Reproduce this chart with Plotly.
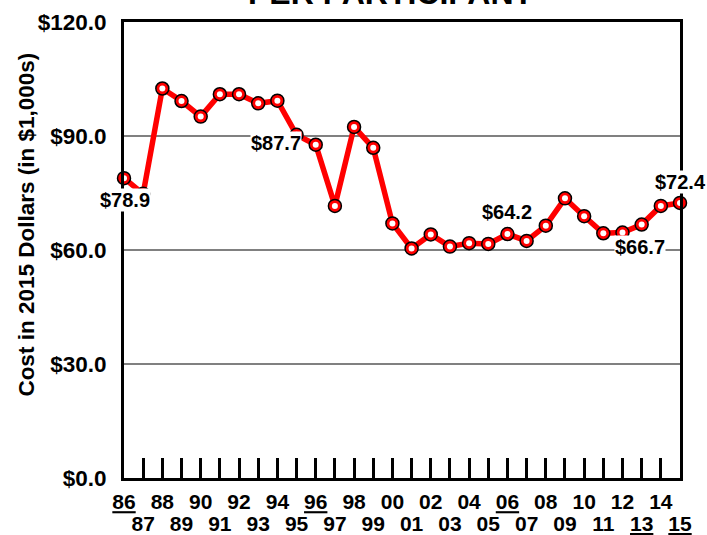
import plotly.graph_objects as go

# ---- data ----
years = list(range(1986, 2016))
cost = [78.9, 74.8, 102.5, 99.2, 95.1, 101.0, 101.0, 98.6, 99.3, 90.3,
        87.7, 71.6, 92.4, 86.9, 67.0, 60.4, 64.1, 60.9, 61.8, 61.6,
        64.2, 62.4, 66.4, 73.6, 68.9, 64.4, 64.6, 66.7, 71.6, 72.4]
label_years = [1986, 1996, 2006, 2013, 2015]
label_text = ["$78.9", "$87.7", "$64.2", "$66.7", "$72.4"]
underlined_years = [1986, 1996, 2006, 2013, 2015]
y_tickvals = [0, 30, 60, 90, 120]
y_ticktext = ["$0.0", "$30.0", "$60.0", "$90.0", "$120.0"]
title_text = "PER PARTICIPANT"
y_title = "Cost in 2015 Dollars (in $1,000s)"

# ---- styles ----
label_shifts = [(1, -22), (-40, 2), (0, 22), (-2, -22), (0, 21)]
FONT = "Liberation Sans, Arial, sans-serif"


def yr_label(y):
    s = f"{y % 100:02d}"
    return f"<u>{s}</u>" if y in underlined_years else s


even_text = [yr_label(y) if y % 2 == 0 else "" for y in years]
odd_text = [yr_label(y) if y % 2 == 1 else "" for y in years]

fig = go.Figure()
# line
fig.add_trace(go.Scatter(
    x=years, y=cost, mode="lines", cliponaxis=False,
    line=dict(color="#FF0000", width=5.5),
    hoverinfo="skip", showlegend=False,
))
# red ball markers
fig.add_trace(go.Scatter(
    x=years, y=cost, mode="markers", cliponaxis=False, xaxis="x2",
    marker=dict(size=13, color="#FF0000", line=dict(color="black", width=1.5)),
    hoverinfo="skip", showlegend=False,
))
# white highlight
fig.add_trace(go.Scatter(
    x=years, y=cost, mode="markers", cliponaxis=False, xaxis="x2",
    marker=dict(size=6, color="white", line=dict(width=0)),
    hoverinfo="skip", showlegend=False,
))

for yr, txt, (dx, dy) in zip(label_years, label_text, label_shifts):
    fig.add_annotation(
        x=yr, y=cost[years.index(yr)], xref="x", yref="y", text=txt,
        showarrow=False, xshift=dx, yshift=dy, bgcolor="white", borderpad=0,
        font=dict(family=FONT, size=20, color="black", weight="bold"),
    )

fig.add_annotation(
    x=-0.175, y=0.555, xref="paper", yref="paper", text=y_title,
    textangle=-90, showarrow=False, xanchor="center", yanchor="middle",
    font=dict(family=FONT, size=22.5, color="black", weight="bold"),
)
fig.add_annotation(
    x=0.48, y=1.019, xref="paper", yref="paper", text=title_text,
    xanchor="center", yanchor="bottom", showarrow=False,
    font=dict(family=FONT, size=32, color="black", weight="bold"),
)

xtickfont = dict(family=FONT, size=21, color="black", weight="bold")
ytickfont = dict(family=FONT, size=22.5, color="black", weight="bold")

fig.update_layout(
    width=707, height=535,
    margin=dict(l=124, r=27, t=22, b=57, autoexpand=False),
    paper_bgcolor="white", plot_bgcolor="white",
    xaxis=dict(
        range=[1986, 2015], tickmode="array", tickvals=years, ticktext=even_text,
        ticks="inside", ticklen=20, tickwidth=2.5, tickcolor="black",
        showline=True, linewidth=3, linecolor="black", mirror=True,
        showgrid=False, zeroline=False, tickfont=xtickfont, ticklabelstandoff=3,
        automargin=False,
    ),
    xaxis2=dict(
        range=[1986, 2015], overlaying="x", anchor="y", side="bottom",
        tickmode="array", tickvals=years, ticktext=odd_text, ticks="",
        showline=False, showgrid=False, zeroline=False, tickfont=xtickfont,
        ticklabelstandoff=31, automargin=False,
    ),
    yaxis=dict(
        range=[0, 120], tickmode="array", tickvals=y_tickvals, ticktext=y_ticktext,
        ticks="", showline=True, linewidth=3, linecolor="black", mirror=True,
        showgrid=True, gridcolor="#808080", gridwidth=2, zeroline=False,
        tickfont=ytickfont, ticklabelstandoff=10, automargin=False,
    ),
)

fig.write_html("out.html", config={"displayModeBar": False},
               post_script="document.body.style.margin='0';document.body.style.padding='0';")
